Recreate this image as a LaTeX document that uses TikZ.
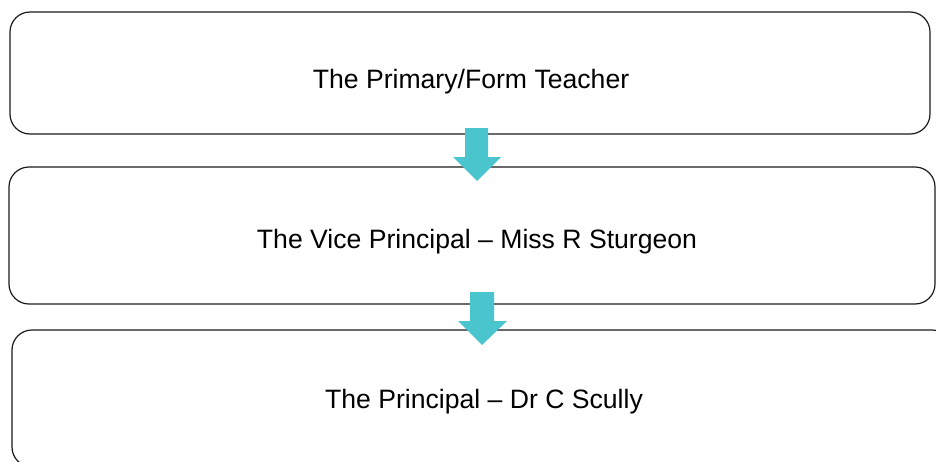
\documentclass[tikz,border=0pt]{standalone}
\usepackage{fontspec}
\setmainfont{Liberation Sans}
\definecolor{arrowteal}{HTML}{4AC5CE}
\definecolor{boxline}{HTML}{1A1A1A}
\begin{document}
\begin{tikzpicture}[x=1pt,y=-1pt,
  box/.style={draw=boxline,line width=1.2pt,rounded corners=20pt,inner sep=0pt},
  lbl/.style={anchor=base,inner sep=0pt,font=\fontsize{26.6}{32}\selectfont},
  blockarrow/.style={fill=arrowteal,draw=none}]
\useasboundingbox (0,0) rectangle (936,461);
\draw[box] (10,12) rectangle (930,134);
\draw[box] (9,167) rectangle (935,304);
\draw[box] (12,330) rectangle (952,467);
\node[lbl] (t1) at (471,88) {The Primary/Form Teacher};
\node[lbl] (t2) at (477,248) {The Vice Principal -- Miss R Sturgeon};
\node[lbl] (t3) at (484,408) {The Principal -- Dr C Scully};
\fill[blockarrow] (465,128) -- (488,128) -- (488,157) -- (501,157) -- (477,181) -- (453,157) -- (465,157) -- cycle;
\fill[blockarrow] (470,292) -- (494,292) -- (494,321) -- (507,321) -- (482,345) -- (458,321) -- (470,321) -- cycle;
\end{tikzpicture}
\end{document}
